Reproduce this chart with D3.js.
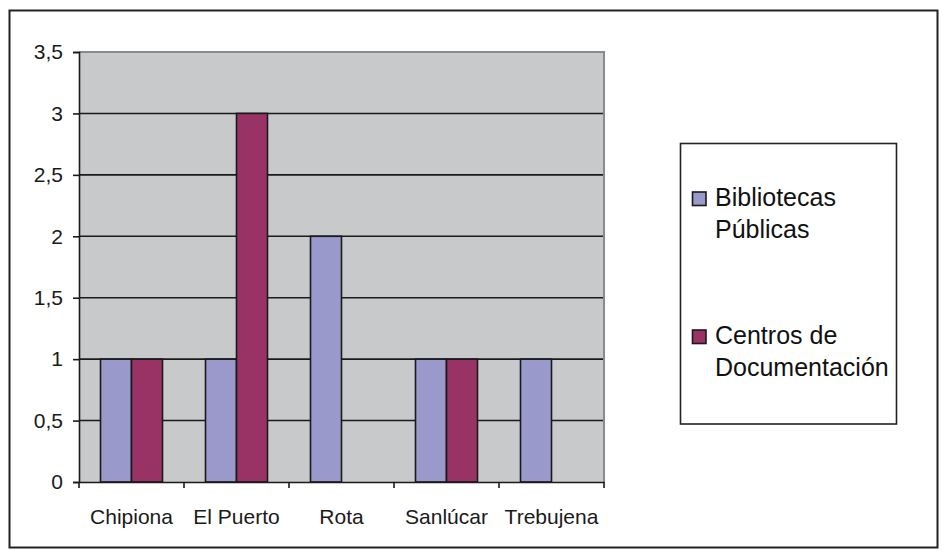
<!DOCTYPE html>
<html>
<head>
<meta charset="utf-8">
<script src="https://cdn.jsdelivr.net/npm/d3@7"></script>
<style>
html,body{margin:0;padding:0;background:#fff;}
svg{display:block;font-family:"Liberation Sans",Arial,sans-serif;}
</style>
</head>
<body>
<svg id="chart" width="946" height="558"></svg>
<script>
const categories = ["Chipiona", "El Puerto", "Rota", "Sanlúcar", "Trebujena"];
const seriesNames = ["Bibliotecas Públicas", "Centros de Documentación"];
const bibliotecas = [1, 1, 2, 1, 1];
const centros = [1, 3, 0, 1, 0];
const yTicks = [0, 0.5, 1, 1.5, 2, 2.5, 3, 3.5];
const legendLines = [["Bibliotecas", "Públicas"], ["Centros de", "Documentación"]];
const colors = ["#9999cc", "#993366"];

const svg = d3.select("#chart");

// outer border
svg.append("rect").attr("x", 9.5).attr("y", 10.5).attr("width", 928).attr("height", 537)
  .attr("fill", "#fff").attr("stroke", "#222").attr("stroke-width", 2);

const plot = {left: 79, right: 604, top: 52, bottom: 482};

const y = d3.scaleLinear().domain([0, 3.5]).range([plot.bottom, plot.top]);
const x = d3.scaleBand().domain(categories).range([plot.left, plot.right]).padding(0);
const xs = d3.scaleBand().domain(seriesNames).range([21.5, x.bandwidth() - 21.5]).padding(0);

// plot background
svg.append("rect").attr("x", plot.left).attr("y", plot.top)
  .attr("width", plot.right - plot.left).attr("height", plot.bottom - plot.top)
  .attr("fill", "#c8c9cb");

// gridlines
svg.append("g").selectAll("line").data(yTicks.filter(d => d > 0 && d < 3.5)).join("line")
  .attr("x1", plot.left).attr("x2", plot.right)
  .attr("y1", d => y(d)).attr("y2", d => y(d))
  .attr("stroke", "#1a1a1a").attr("stroke-width", 1.6);

// plot border top/right (gray)
svg.append("path")
  .attr("d", `M${plot.left},${plot.top}H${plot.right}V${plot.bottom}`)
  .attr("fill", "none").attr("stroke", "#8a8a8a").attr("stroke-width", 2);

// bars
const data = [bibliotecas, centros];
seriesNames.forEach((s, si) => {
  svg.append("g").selectAll("rect").data(categories.map((c, i) => ({c, v: data[si][i]})).filter(d => d.v > 0))
    .join("rect")
    .attr("x", d => x(d.c) + xs(s))
    .attr("y", d => y(d.v))
    .attr("width", xs.bandwidth())
    .attr("height", d => y(0) - y(d.v))
    .attr("fill", colors[si])
    .attr("stroke", "#1a1a1a").attr("stroke-width", 1.6);
});

// y axis
const yAxis = d3.axisLeft(y).tickValues(yTicks).tickSize(6).tickPadding(10)
  .tickFormat(d => String(d).replace(".", ","));
const gy = svg.append("g").attr("transform", `translate(${plot.left},0)`).call(yAxis);
gy.select(".domain").attr("stroke", "#1a1a1a").attr("stroke-width", 1.6);
gy.selectAll(".tick line").attr("stroke", "#1a1a1a").attr("stroke-width", 1.6);
gy.selectAll("text").attr("font-size", 21).attr("fill", "#1a1a1a")
  .attr("font-family", "Liberation Sans, Arial, sans-serif");

// x axis
const xAxis = d3.axisBottom(x).tickSize(0).tickPadding(27);
const gx = svg.append("g").attr("transform", `translate(0,${plot.bottom})`).call(xAxis);
gx.select(".domain").attr("stroke", "#1a1a1a").attr("stroke-width", 1.6);
gx.selectAll("text").attr("font-size", 21).attr("fill", "#1a1a1a")
  .attr("font-family", "Liberation Sans, Arial, sans-serif");
// category separator ticks
gx.append("g").selectAll("line").data(categories.concat(["__end"])).join("line")
  .attr("x1", (d, i) => plot.left + i * x.step()).attr("x2", (d, i) => plot.left + i * x.step())
  .attr("y1", 0).attr("y2", 6).attr("stroke", "#1a1a1a").attr("stroke-width", 1.6);

// legend
const lg = svg.append("g");
lg.append("rect").attr("x", 680.5).attr("y", 143.5).attr("width", 216).attr("height", 280.5)
  .attr("fill", "#fff").attr("stroke", "#222").attr("stroke-width", 1.6);
const itemY = [192, 330];
seriesNames.forEach((s, i) => {
  lg.append("rect").attr("x", 692.5).attr("y", itemY[i]).attr("width", 13.5).attr("height", 13.5)
    .attr("fill", colors[i]).attr("stroke", "#1a1a1a").attr("stroke-width", 1.6);
  legendLines[i].forEach((t, j) => {
    lg.append("text").attr("x", 715).attr("y", itemY[i] + 14 + j * 31.5)
      .attr("font-size", 25).attr("fill", "#111").text(t);
  });
});
</script>
</body>
</html>
